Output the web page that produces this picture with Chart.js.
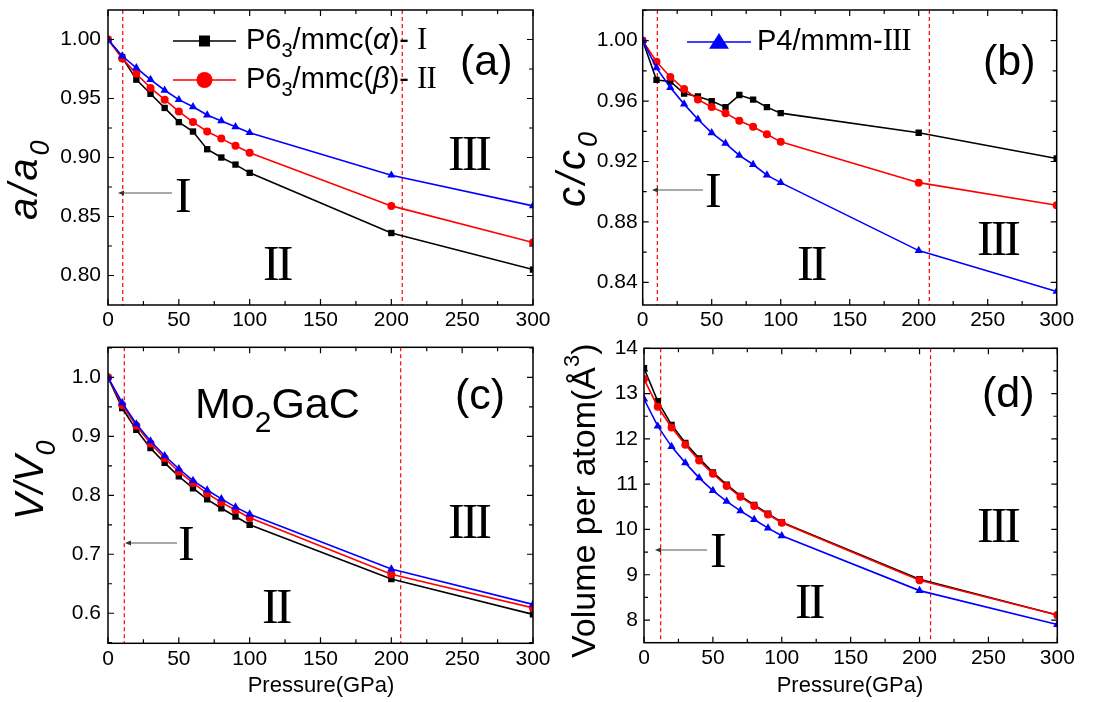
<!DOCTYPE html>
<html>
<head>
<meta charset="UTF-8">
<title>Mo2GaC - compression vs pressure</title>
<script src="https://cdn.jsdelivr.net/npm/chart.js"></script>
<style>
  body { margin: 0; background: #fff; }
  #wrap { position: relative; width: 1097px; height: 702px; background: #fff; }
  #wrap canvas { position: absolute; left: 0; top: 0; }
</style>
</head>
<body>
<div id="wrap">
  <canvas id="panelA" width="1097" height="702"></canvas>
  <canvas id="panelB" width="1097" height="702"></canvas>
  <canvas id="panelC" width="1097" height="702"></canvas>
  <canvas id="panelD" width="1097" height="702"></canvas>
</div>
<script>
// pressure points (GPa)
const pressure = [0, 10, 20, 30, 40, 50, 60, 70, 80, 90, 100, 200, 300];

// (a) a/a0
const aAlpha = [1.000, 0.985, 0.966, 0.954, 0.942, 0.930, 0.922, 0.907, 0.900, 0.894, 0.887, 0.836, 0.805];
const aBeta  = [1.000, 0.984, 0.971, 0.959, 0.949, 0.939, 0.930, 0.922, 0.916, 0.910, 0.904, 0.859, 0.828];
const aTetra = [1.000, 0.986, 0.976, 0.966, 0.957, 0.949, 0.943, 0.936, 0.931, 0.926, 0.921, 0.885, 0.859];

// (b) c/c0
const cAlpha = [1.000, 0.974, 0.973, 0.965, 0.963, 0.960, 0.956, 0.964, 0.961, 0.956, 0.952, 0.939, 0.922];
const cBeta  = [1.000, 0.986, 0.976, 0.968, 0.961, 0.956, 0.952, 0.947, 0.943, 0.938, 0.933, 0.906, 0.891];
const cTetra = [1.000, 0.982, 0.969, 0.958, 0.948, 0.939, 0.932, 0.924, 0.918, 0.911, 0.906, 0.861, 0.834];

// (c) V/V0
const vAlpha = [1.000, 0.948, 0.911, 0.880, 0.855, 0.832, 0.812, 0.793, 0.778, 0.764, 0.750, 0.658, 0.598];
const vBeta  = [1.000, 0.953, 0.918, 0.888, 0.863, 0.840, 0.821, 0.803, 0.788, 0.775, 0.762, 0.666, 0.609];
const vTetra = [1.000, 0.957, 0.921, 0.892, 0.867, 0.845, 0.825, 0.809, 0.794, 0.780, 0.768, 0.675, 0.615];

// (d) volume per atom (A^3)
const volAlpha = [13.56, 12.83, 12.31, 11.91, 11.57, 11.26, 10.99, 10.74, 10.54, 10.35, 10.16, 8.90, 8.11];
const volBeta  = [13.32, 12.71, 12.25, 11.87, 11.52, 11.23, 10.96, 10.72, 10.52, 10.33, 10.15, 8.88, 8.11];
const volTetra = [12.88, 12.28, 11.83, 11.47, 11.14, 10.86, 10.62, 10.41, 10.22, 10.03, 9.86, 8.65, 7.90];

// tick labels
const xTicks  = [0, 50, 100, 150, 200, 250, 300];
const yTicksA = [0.80, 0.85, 0.90, 0.95, 1.00];
const yTicksB = [0.84, 0.88, 0.92, 0.96, 1.00];
const yTicksC = [0.6, 0.7, 0.8, 0.9, 1.0];
const yTicksD = [8, 9, 10, 11, 12, 13, 14];

// phase boundaries (dashed red lines), GPa
const boundsA = [10.4, 207.7];
const boundsB = [10.6, 207.7];
const boundsC = [11.5, 206.6];
const boundsD = [12.1, 208];

const SANS = '"Liberation Sans", Arial, sans-serif';
const SERIF = '"Liberation Serif", "Times New Roman", serif';

function drawMarker(ctx, style, x, y, r, color) {
    ctx.save();
    ctx.fillStyle = color;
    ctx.beginPath();
    if (style === 'rect') {
        ctx.rect(x - r, y - r, 2 * r, 2 * r);
    } else if (style === 'circle') {
        ctx.arc(x, y, r, 0, Math.PI * 2);
    } else {
        ctx.moveTo(x, y - r);
        ctx.lineTo(x + r * 1.1, y + r * 0.75);
        ctx.lineTo(x - r * 1.1, y + r * 0.75);
        ctx.closePath();
    }
    ctx.fill();
    ctx.restore();
}

// draws text made of several runs (for sub/superscripts, mixed fonts)
function drawRuns(ctx, x, y, runs) {
    let cx = x;
    runs.forEach(function (r) {
        ctx.font = r.f;
        ctx.letterSpacing = r.ls || '0px';
        ctx.fillText(r.t, cx, y + (r.dy || 0));
        cx += ctx.measureText(r.t).width + (r.gap || 0);
    });
    ctx.letterSpacing = '0px';
}

function minorValues(ticks, min, max) {
    const step = ticks[1] - ticks[0];
    const out = [];
    ticks.forEach(function (m) {
        [m - step / 2, m + step / 2].forEach(function (v) {
            if (v > min + 1e-9 && v < max - 1e-9 && !out.some(o => Math.abs(o - v) < 1e-9)) out.push(v);
        });
    });
    return out;
}

const framePlugin = {
    id: 'frame',
    beforeDatasetsDraw(chart) {
        const d = chart.options.plugins.frame;
        const ctx = chart.ctx, ca = chart.chartArea, x = chart.scales.x;
        ctx.save();
        ctx.strokeStyle = '#ff0000';
        ctx.lineWidth = 1.2;
        ctx.setLineDash([4, 3]);
        d.bounds.forEach(function (p) {
            const px = x.getPixelForValue(p);
            ctx.beginPath();
            ctx.moveTo(px, ca.top);
            ctx.lineTo(px, ca.bottom);
            ctx.stroke();
        });
        ctx.restore();
    },
    afterDatasetsDraw(chart) {
        const ctx = chart.ctx, ca = chart.chartArea;
        const x = chart.scales.x, y = chart.scales.y;
        ctx.save();
        ctx.strokeStyle = '#000';
        ctx.lineWidth = 1.5;
        ctx.strokeRect(ca.left, ca.top, ca.right - ca.left, ca.bottom - ca.top);
        ctx.lineWidth = 1.2;
        const xMaj = x.ticks.map(t => t.value), yMaj = y.ticks.map(t => t.value);
        const xMin = minorValues(xMaj, x.min, x.max), yMin = minorValues(yMaj, y.min, y.max);
        ctx.beginPath();
        xMaj.concat(xMin).forEach(function (v, i) {
            const len = i < xMaj.length ? 6 : 4;
            const px = x.getPixelForValue(v);
            ctx.moveTo(px, ca.bottom); ctx.lineTo(px, ca.bottom - len);
            ctx.moveTo(px, ca.top); ctx.lineTo(px, ca.top + len);
        });
        yMaj.concat(yMin).forEach(function (v, i) {
            const len = i < yMaj.length ? 6 : 4;
            const py = y.getPixelForValue(v);
            ctx.moveTo(ca.left, py); ctx.lineTo(ca.left + len, py);
            ctx.moveTo(ca.right, py); ctx.lineTo(ca.right - len, py);
        });
        ctx.stroke();
        ctx.restore();
    },
    afterDraw(chart) {
        const d = chart.options.plugins.frame;
        const ctx = chart.ctx;
        ctx.save();
        ctx.fillStyle = '#000';
        ctx.textBaseline = 'alphabetic';
        ctx.textAlign = 'left';
        // legend entries
        (d.legend || []).forEach(function (l) {
            ctx.strokeStyle = l.color;
            ctx.lineWidth = 1.6;
            ctx.beginPath();
            ctx.moveTo(l.x1, l.y); ctx.lineTo(l.x2, l.y);
            ctx.stroke();
            drawMarker(ctx, l.style, (l.x1 + l.x2) / 2, l.y, l.r, l.color);
            ctx.fillStyle = '#000';
            drawRuns(ctx, l.tx, l.ty, l.runs);
        });
        // free text
        (d.texts || []).forEach(function (t) {
            ctx.fillStyle = '#000';
            if (t.rot) {
                ctx.save();
                ctx.translate(t.x, t.y);
                ctx.rotate(-Math.PI / 2);
                drawRuns(ctx, 0, 0, t.runs);
                ctx.restore();
            } else if (t.center) {
                ctx.font = t.runs[0].f;
                ctx.textAlign = 'center';
                ctx.fillText(t.runs[0].t, t.x, t.y);
                ctx.textAlign = 'left';
            } else {
                drawRuns(ctx, t.x, t.y, t.runs);
            }
        });
        // arrows pointing to region I
        (d.arrows || []).forEach(function (a) {
            ctx.strokeStyle = '#555';
            ctx.fillStyle = '#333';
            ctx.lineWidth = 1;
            ctx.beginPath();
            ctx.moveTo(a.x1, a.y); ctx.lineTo(a.x2 + 5, a.y);
            ctx.stroke();
            ctx.beginPath();
            ctx.moveTo(a.x2, a.y);
            ctx.lineTo(a.x2 + 6, a.y - 2.5);
            ctx.lineTo(a.x2 + 6, a.y + 2.5);
            ctx.closePath();
            ctx.fill();
        });
        ctx.restore();
    }
};

function roman(txt, x, y) {
    return { x: x, y: y, runs: [{ t: txt, f: '50px ' + SERIF, ls: '-3px' }] };
}

function makePanel(id, area, series, yTicks, yMin, yMax, dec, deco) {
    const styles = [
        { label: 'alpha', color: '#000000', style: 'rect', r: 4.5, order: 3 },
        { label: 'beta', color: '#ff0000', style: 'circle', r: 4, order: 2 },
        { label: 'tetra', color: '#0000ff', style: 'triangle', r: 4.8, order: 1 }
    ];
    const datasets = series.map(function (vals, i) {
        const s = styles[i];
        return {
            label: s.label,
            data: pressure.map((p, k) => ({ x: p, y: vals[k] })),
            borderColor: s.color,
            backgroundColor: s.color,
            borderWidth: 1.6,
            pointStyle: s.style,
            pointRadius: s.r,
            pointBorderWidth: 0,
            tension: 0,
            order: s.order
        };
    });
    const xh = 30;
    return new Chart(document.getElementById(id), {
        type: 'line',
        data: { datasets: datasets },
        options: {
            responsive: false,
            animation: false,
            events: [],
            layout: { padding: { left: 0, top: area.t, right: 1097 - area.r, bottom: 702 - area.b - xh } },
            plugins: { legend: { display: false }, tooltip: { enabled: false }, frame: deco },
            scales: {
                x: {
                    type: 'linear', min: 0, max: 300,
                    grid: { display: false, drawTicks: false, tickLength: 0 },
                    border: { display: false },
                    afterBuildTicks: s => { s.ticks = xTicks.map(v => ({ value: v })); },
                    afterFit: s => { s.height = xh; s.paddingLeft = 0; s.paddingRight = 0; },
                    ticks: { color: '#000', padding: 3, maxRotation: 0, autoSkip: false,
                             font: { family: SANS, size: 21 }, callback: v => String(v) }
                },
                y: {
                    type: 'linear', min: yMin, max: yMax,
                    grid: { display: false, drawTicks: false, tickLength: 0 },
                    border: { display: false },
                    afterBuildTicks: s => { s.ticks = yTicks.map(v => ({ value: v })); },
                    afterFit: s => { s.width = area.l; s.paddingTop = 0; s.paddingBottom = 0; },
                    ticks: { color: '#000', padding: area.gap, autoSkip: false,
                             font: { family: SANS, size: 21 }, callback: v => Number(v).toFixed(dec) }
                }
            }
        },
        plugins: [framePlugin]
    });
}

// (a)
makePanel('panelA', { l: 108, r: 533, t: 10, b: 305, gap: 7 }, [aAlpha, aBeta, aTetra], yTicksA, 0.775, 1.025, 2, {
    bounds: boundsA,
    legend: [
        { x1: 173, x2: 236, y: 41, style: 'rect', r: 5.5, color: '#000000', tx: 246, ty: 49,
          runs: [{ t: 'P6', f: '29px ' + SANS }, { t: '3', f: '20px ' + SANS, dy: 8 }, { t: '/mmc(', f: '29px ' + SANS },
                 { t: 'α', f: 'italic 29px ' + SANS }, { t: ')- ', f: '29px ' + SANS }, { t: 'I', f: '31px ' + SERIF }] },
        { x1: 173, x2: 236, y: 80, style: 'circle', r: 8, color: '#ff0000', tx: 246, ty: 88,
          runs: [{ t: 'P6', f: '29px ' + SANS }, { t: '3', f: '20px ' + SANS, dy: 8 }, { t: '/mmc(', f: '29px ' + SANS },
                 { t: 'β', f: 'italic 29px ' + SANS }, { t: ')- ', f: '29px ' + SANS }, { t: 'II', f: '31px ' + SERIF, ls: '-1px' }] }
    ],
    texts: [
        { x: 460, y: 75, runs: [{ t: '(a)', f: '43px ' + SANS }] },
        roman('III', 448, 170), roman('II', 263, 280), roman('I', 175, 212),
        { rot: true, x: 37, y: 220, runs: [{ t: 'a/a', f: 'italic 40px ' + SANS, ls: '3px' }, { t: '0', f: 'italic 27px ' + SANS, dy: 12 }] }
    ],
    arrows: [{ x1: 172, x2: 118, y: 193 }]
});

// (b)
makePanel('panelB', { l: 642.7, r: 1056.7, t: 10, b: 305, gap: 5 }, [cAlpha, cBeta, cTetra], yTicksB, 0.825, 1.0203, 2, {
    bounds: boundsB,
    legend: [
        { x1: 687, x2: 751, y: 42, style: 'triangle', r: 9, color: '#0000ff', tx: 757, ty: 50,
          runs: [{ t: 'P4/mmm-', f: '29px ' + SANS }, { t: 'III', f: '31px ' + SERIF, ls: '-1px' }] }
    ],
    texts: [
        { x: 983, y: 75, runs: [{ t: '(b)', f: '43px ' + SANS }] },
        roman('III', 977, 255), roman('II', 797, 280), roman('I', 705, 207),
        { rot: true, x: 585, y: 207, runs: [{ t: 'c/c', f: 'italic 40px ' + SANS, ls: '3px' }, { t: '0', f: 'italic 27px ' + SANS, dy: 12 }] }
    ],
    arrows: [{ x1: 703, x2: 652, y: 190 }]
});

// (c)
makePanel('panelC', { l: 108, r: 533, t: 347.3, b: 643.3, gap: 7 }, [vAlpha, vBeta, vTetra], yTicksC, 0.549, 1.051, 1, {
    bounds: boundsC,
    texts: [
        { x: 195, y: 418, runs: [{ t: 'Mo', f: '43px ' + SANS }, { t: '2', f: '30px ' + SANS, dy: 14 }, { t: 'GaC', f: '43px ' + SANS }] },
        { x: 455, y: 409, runs: [{ t: '(c)', f: '43px ' + SANS }] },
        roman('III', 448, 538), roman('II', 262, 623), roman('I', 178, 560),
        { rot: true, x: 43, y: 520, runs: [{ t: 'V/V', f: 'italic 40px ' + SANS }, { t: '0', f: 'italic 27px ' + SANS, dy: 12 }] },
        { center: true, x: 321, y: 692, runs: [{ t: 'Pressure(GPa)', f: '22px ' + SANS }] }
    ],
    arrows: [{ x1: 177, x2: 125, y: 543 }]
});

// (d)
makePanel('panelD', { l: 644, r: 1057.3, t: 348.3, b: 642.7, gap: 6 }, [volAlpha, volBeta, volTetra], yTicksD, 7.5, 14, 0, {
    bounds: boundsD,
    texts: [
        { x: 982, y: 407, runs: [{ t: '(d)', f: '43px ' + SANS }] },
        roman('III', 977, 542), roman('II', 795, 618), roman('I', 710, 567),
        { rot: true, x: 595, y: 658, runs: [{ t: 'Volume per atom(Å', f: '34px ' + SANS }, { t: '3', f: '22px ' + SANS, dy: -16 }, { t: ')', f: '34px ' + SANS }] },
        { center: true, x: 850, y: 692, runs: [{ t: 'Pressure(GPa)', f: '22px ' + SANS }] }
    ],
    arrows: [{ x1: 707, x2: 655, y: 550 }]
});
</script>
</body>
</html>
